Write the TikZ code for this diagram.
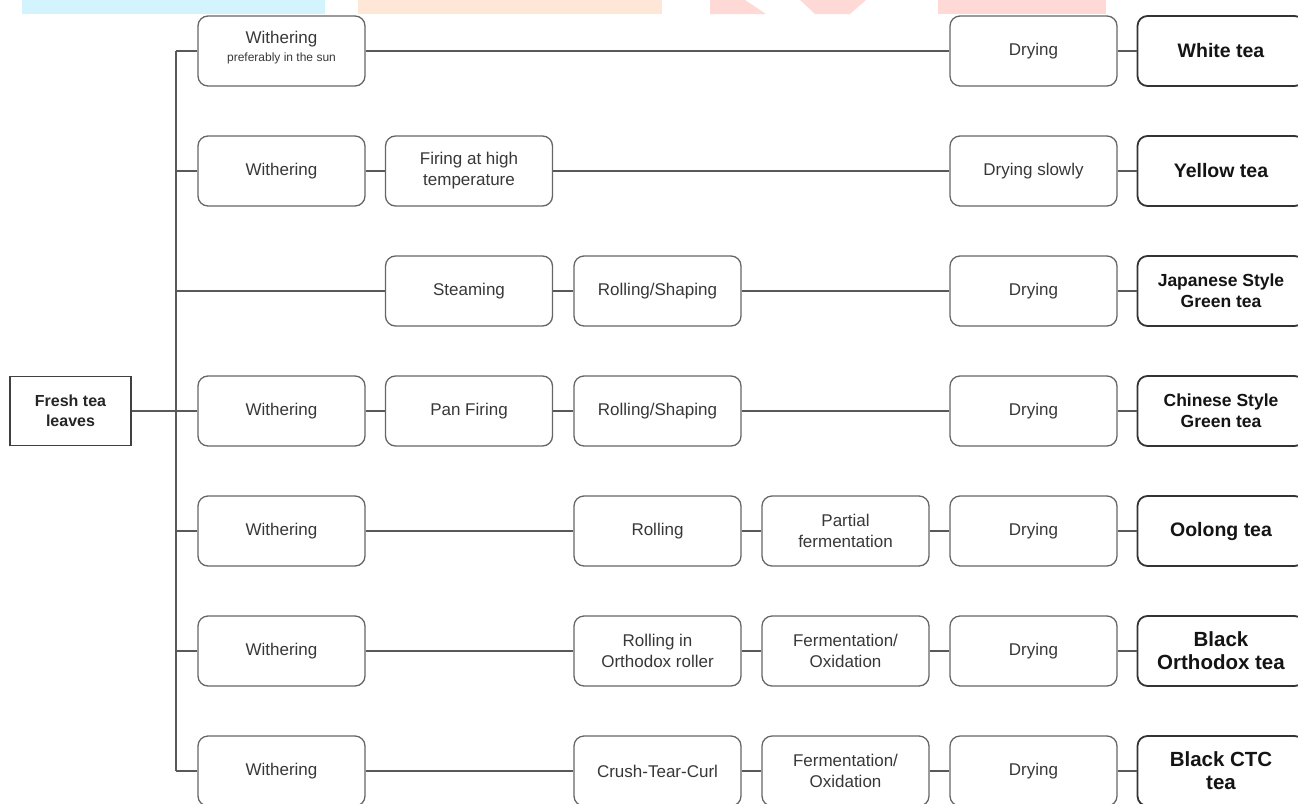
\documentclass[tikz,border=0pt]{standalone}
\usepackage{fontspec}
\setmainfont{Liberation Sans}
\usetikzlibrary{positioning}

\definecolor{wmcyan}{HTML}{D3F4FC}
\definecolor{wmorange}{HTML}{FEE7D7}
\definecolor{wmred}{HTML}{FFD9D6}

\newcommand{\subnote}{\fontsize{12}{14}\selectfont}

\begin{document}
\begin{tikzpicture}[
    x=1pt, y=-1pt,
    stage/.style={rectangle, rounded corners=10pt, draw=black!60, line width=1.3pt, minimum width=167pt, minimum height=70pt, align=center, fill=white, text=black!78, inner sep=2pt, font=\fontsize{17}{21}\selectfont},
    result/.style={stage, draw=black!80, line width=1.8pt, text=black!92, font=\bfseries\fontsize{19.5}{23}\selectfont},
    source/.style={rectangle, draw=black!75, line width=1.2pt, minimum width=121pt, minimum height=69pt, align=center, fill=white, text=black!85, font=\bfseries\fontsize{16}{20}\selectfont},
    link/.style={draw=black!65, line width=1.3pt}
]
\useasboundingbox (0,0) rectangle (1298,803);

% Faint logo strip along the top edge
\fill[wmcyan] (22,0) rectangle (325,14);
\fill[wmorange] (358,0) rectangle (662,14);
\fill[wmred] (710,0) -- (745,0) -- (766,14) -- (710,14) -- cycle;
\fill[wmred] (800,0) -- (866,0) -- (850,14) -- (815,14) -- cycle;
\fill[wmred] (938,0) rectangle (1106,14);

% Source
\node[source] (fresh) at (70.5,411) {Fresh tea\\leaves};

% Branch points on the spine
\coordinate (s1) at (176,51);
\coordinate (s2) at (176,171);
\coordinate (s3) at (176,291);
\coordinate (s4) at (176,411);
\coordinate (s5) at (176,531);
\coordinate (s6) at (176,651);
\coordinate (s7) at (176,771);

% Row 1: White tea
\node[stage, text depth=10pt] (wither1) at (281.5,51) {Withering\\[-3pt]{\subnote preferably in the sun}};
\node[stage] (dry1) at (1033.5,51) {Drying};
\node[result] (white) at (1221,51) {White tea};

% Row 2: Yellow tea
\node[stage] (wither2) at (281.5,171) {Withering};
\node[stage] (fire2) at (469,171) {Firing at high\\temperature};
\node[stage] (dry2) at (1033.5,171) {Drying slowly};
\node[result] (yellow) at (1221,171) {Yellow tea};

% Row 3: Japanese green tea
\node[stage] (steam3) at (469,291) {Steaming};
\node[stage] (shape3) at (657.5,291) {Rolling/Shaping};
\node[stage] (dry3) at (1033.5,291) {Drying};
\node[result, font=\bfseries\fontsize{17.5}{21}\selectfont] (japan) at (1221,291) {Japanese Style\\Green tea};

% Row 4: Chinese green tea
\node[stage] (wither4) at (281.5,411) {Withering};
\node[stage] (pan4) at (469,411) {Pan Firing};
\node[stage] (shape4) at (657.5,411) {Rolling/Shaping};
\node[stage] (dry4) at (1033.5,411) {Drying};
\node[result, font=\bfseries\fontsize{17.5}{21}\selectfont] (china) at (1221,411) {Chinese Style\\Green tea};

% Row 5: Oolong tea
\node[stage] (wither5) at (281.5,531) {Withering};
\node[stage] (roll5) at (657.5,531) {Rolling};
\node[stage] (ferm5) at (845.5,531) {Partial\\fermentation};
\node[stage] (dry5) at (1033.5,531) {Drying};
\node[result] (oolong) at (1221,531) {Oolong tea};

% Row 6: Black orthodox tea
\node[stage] (wither6) at (281.5,651) {Withering};
\node[stage] (roll6) at (657.5,651) {Rolling in\\Orthodox roller};
\node[stage] (ferm6) at (845.5,651) {Fermentation/\\Oxidation};
\node[stage] (dry6) at (1033.5,651) {Drying};
\node[result, font=\bfseries\fontsize{20.5}{23}\selectfont] (ortho) at (1221,651) {Black\\Orthodox tea};

% Row 7: Black CTC tea
\node[stage] (wither7) at (281.5,771) {Withering};
\node[stage] (ctc7) at (657.5,771) {Crush-Tear-Curl};
\node[stage] (ferm7) at (845.5,771) {Fermentation/\\Oxidation};
\node[stage] (dry7) at (1033.5,771) {Drying};
\node[result, font=\bfseries\fontsize{20.5}{23}\selectfont] (ctc) at (1221,771) {Black CTC\\tea};

% Spine and branches
\draw[link] (s1) -- (s7);
\draw[link] (fresh) -- (s4);
\draw[link] (s1) -- (wither1);
\draw[link] (s2) -- (wither2);
\draw[link] (s3) -- (steam3);
\draw[link] (s4) -- (wither4);
\draw[link] (s5) -- (wither5);
\draw[link] (s6) -- (wither6);
\draw[link] (s7) -- (wither7);

% Process chains
\draw[link] (wither1) -- (dry1);
\draw[link] (dry1) -- (white);
\draw[link] (wither2) -- (fire2);
\draw[link] (fire2) -- (dry2);
\draw[link] (dry2) -- (yellow);
\draw[link] (steam3) -- (shape3);
\draw[link] (shape3) -- (dry3);
\draw[link] (dry3) -- (japan);
\draw[link] (wither4) -- (pan4);
\draw[link] (pan4) -- (shape4);
\draw[link] (shape4) -- (dry4);
\draw[link] (dry4) -- (china);
\draw[link] (wither5) -- (roll5);
\draw[link] (roll5) -- (ferm5);
\draw[link] (ferm5) -- (dry5);
\draw[link] (dry5) -- (oolong);
\draw[link] (wither6) -- (roll6);
\draw[link] (roll6) -- (ferm6);
\draw[link] (ferm6) -- (dry6);
\draw[link] (dry6) -- (ortho);
\draw[link] (wither7) -- (ctc7);
\draw[link] (ctc7) -- (ferm7);
\draw[link] (ferm7) -- (dry7);
\draw[link] (dry7) -- (ctc);

\end{tikzpicture}
\end{document}
